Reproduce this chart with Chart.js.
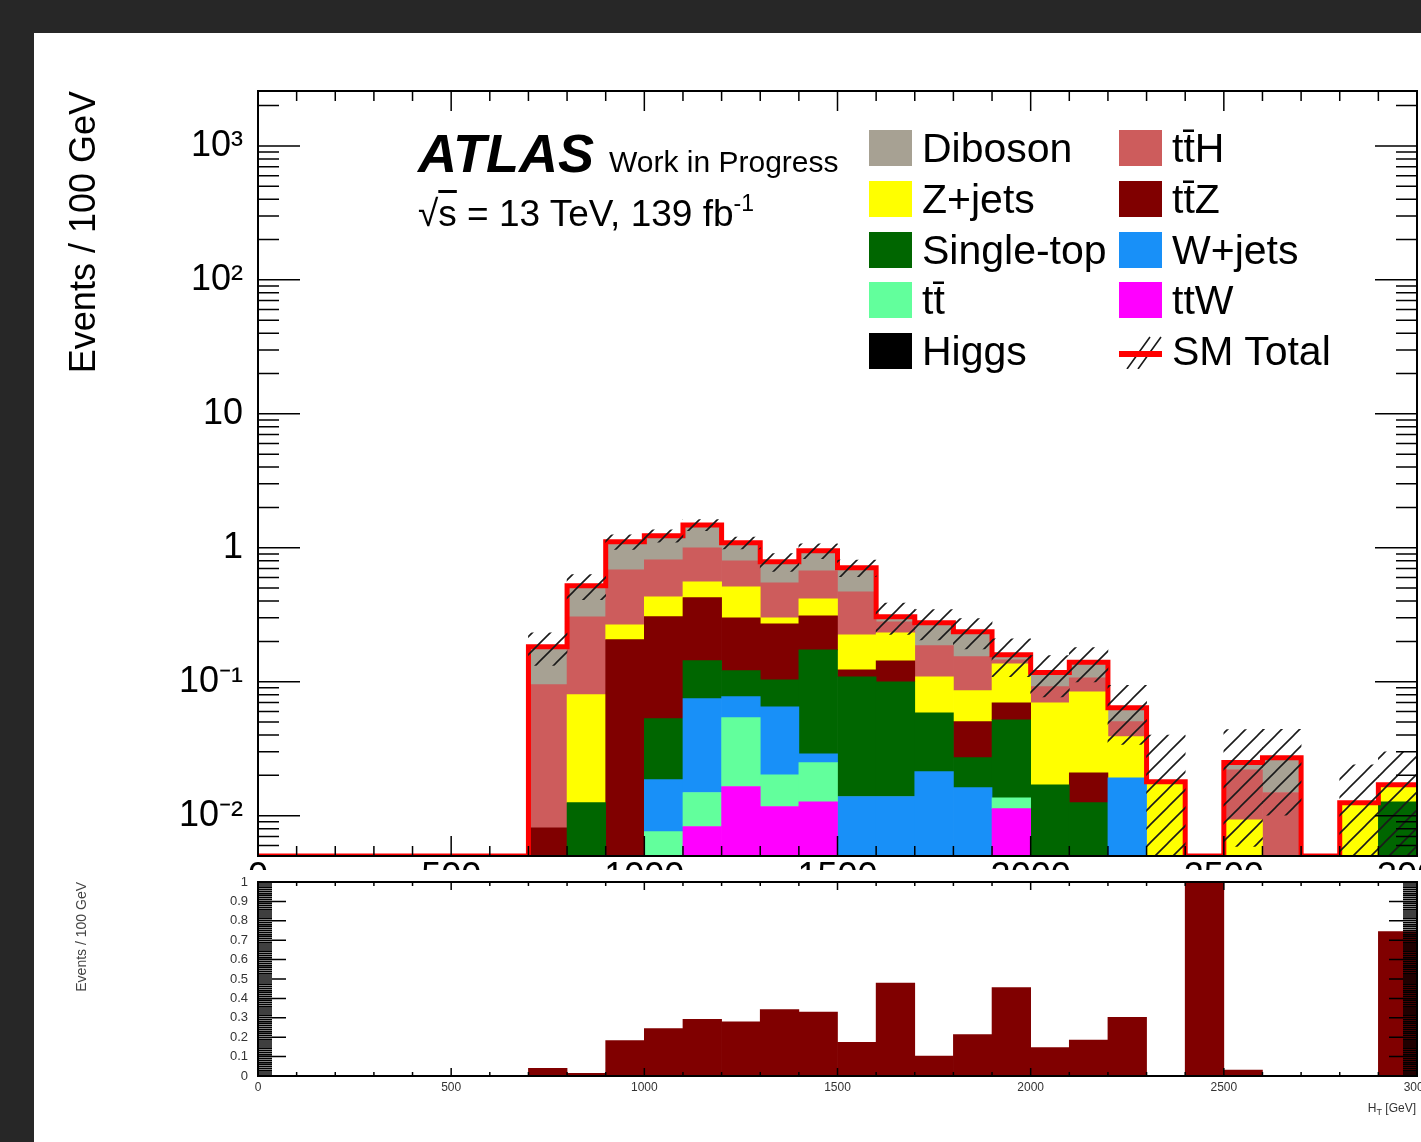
<!DOCTYPE html>
<html>
<head>
<meta charset="utf-8">
<script src="https://cdn.jsdelivr.net/npm/chart.js@4.4.0/dist/chart.umd.min.js"></script>
<style>
  body { margin: 0; width: 1421px; height: 1142px; overflow: hidden; position: relative;
         background: #272727; font-family: "Liberation Sans", Arial, sans-serif; }
  #sheet { position: absolute; left: 34px; top: 33px; right: 0; bottom: 0; background: #fff; }
  canvas { position: absolute; }
  #main { left: 34px; top: 33px; }
  #lower { left: 34px; top: 870px; background: #fff; }
  .txt { position: absolute; white-space: nowrap; color: #000; }
  #legend { position: absolute; left: 869px; top: 130px; }
  #legend .item { position: absolute; display: flex; align-items: center; height: 36px;
                  font-size: 41px; line-height: 36px; white-space: nowrap; }
  #legend .sw { width: 43px; height: 36px; margin-right: 10px; flex: none; }
</style>
</head>
<body>
<div id="sheet"></div>
<canvas id="main" width="1387" height="867"></canvas>
<canvas id="lower" width="1387" height="272"></canvas>

<div class="txt" style="left:418px; top:126px; font: italic bold 54px/54px 'Liberation Sans', Arial, sans-serif;">ATLAS</div>
<div class="txt" style="left:609px; top:147px; font: 30px/30px 'Liberation Sans', Arial, sans-serif;">Work in Progress</div>
<div class="txt" style="left:418px; top:195px; font: 37px/37px 'Liberation Sans', Arial, sans-serif;">√<span style="text-decoration: overline;">s</span> = 13 TeV, 139 fb<span style="font-size:23px; position:relative; top:-15px;">-1</span></div>
<div id="legend"></div>
<div class="txt" style="right:5px; top:1101px; font: 12px 'Liberation Sans', Arial, sans-serif; color:#333;">H<sub style="font-size:9px;">T</sub> [GeV]</div>

<script>
// 100 GeV bins of H_T
const binEdges = [0, 100, 200, 300, 400, 500, 600, 700, 800, 900, 1000, 1100, 1200, 1300, 1400, 1500,
  1600, 1700, 1800, 1900, 2000, 2100, 2200, 2300, 2400, 2500, 2600, 2700, 2800, 2900, 3000]

// events / 100 GeV per background (0 = empty bin)
//               0-600 GeV           700    800    900    1000   1100    1200   1300   1400   1500   1600   1700   1800   1900   2000   2100   2200   2300   2400 2500   2600   2700 2800 2900
const higgs     = [0,0,0,0,0,0,0,    0,     0,     0,     0,     0,      0,     0,     0,     0,     0,     0,     0,     0,     0,     0,     0,     0,     0,   0,     0,     0,   0,     0]
const ttW       = [0,0,0,0,0,0,0,    0,     0,     0,     0,     0.0083, 0.0165,0.0117,0.0127,0,     0,     0,     0,     0.0113,0,     0,     0,     0,     0,   0,     0,     0,   0,     0]
const ttbar     = [0,0,0,0,0,0,0,    0,     0,     0,     0.0076,0.0066, 0.0374,0.0085,0.0122,0,     0,     0,     0,     0.0023,0,     0,     0,     0,     0,   0,     0,     0,   0,     0]
const wjets     = [0,0,0,0,0,0,0,    0,     0,     0,     0.011, 0.0599, 0.0234,0.0448,0.0041,0.0139,0.0139,0.0213,0.0162,0,     0,     0,     0.0192,0,     0,   0,     0,     0,   0,     0]
const singleTop = [0,0,0,0,0,0,0,    0,     0.0125,0,     0.0344,0.0688, 0.0437,0.0385,0.144, 0.095, 0.086, 0.0374,0.0109,0.0384,0.017, 0.0125,0,     0,     0,   0,     0,     0,   0,     0.0127]
const ttZ       = [0,0,0,0,0,0,0,    0.0081,0,     0.206, 0.253, 0.2805, 0.179, 0.1675,0.138, 0.014, 0.0435,0,     0.0232,0.0177,0,     0.0084,0,     0,     0,   0,     0,     0,   0,     0]
const zjets     = [0,0,0,0,0,0,0,    0,     0.0675,0.06,  0.125, 0.133,  0.212, 0.029, 0.105, 0.101, 0.0885,0.0503,0.0354,0.0663,0.0527,0.0633,0.0197,0.0179,0,   0.0093,0,     0,   0.0125,0.0043]
const ttH       = [0,0,0,0,0,0,0,    0.087, 0.225, 0.419, 0.383, 0.443,  0.288, 0.248, 0.257, 0.245, 0.048, 0.077, 0.0683,0.010, 0.0221,0.0228,0.0114,0,     0,   0.0127,0.0149,0,   0,     0]
const diboson   = [0,0,0,0,0,0,0,    0.087, 0.215, 0.425, 0.416, 0.48,   0.29,  0.238, 0.277, 0.24,  0.026, 0.089, 0.082, 0.013, 0.0252,0.0328,0.0137,0,     0,   0.0029,0.0122,0,   0,     0]
// uncertainty on the SM total (hatched band)
const statErr   = [0,0,0,0,0,0,0,    0.05,  0.11,  0.14,  0.13,  0.14,   0.11,  0.12,  0.12,  0.10,  0.08,  0.07,  0.06,  0.05,  0.04,  0.04,  0.03,  0.022, 0,   0.019, 0.017, 0,   0.0115,0.013]
// lower pad
const lowerVals = [0,0,0,0,0,0,0,    0.04,  0.014, 0.182, 0.245, 0.292,  0.279, 0.342, 0.330, 0.174, 0.479, 0.103, 0.214, 0.456, 0.146, 0.185, 0.303, 0,     1.3, 0.03,  0,     0,   0,     0.744] // 2400-2500 runs off the top

const xTickValues = [0, 500, 1000, 1500, 2000, 2500, 3000]
const xTickLabels = ['0', '500', '1000', '1500', '2000', '2500', '3000']
const yTickValues = [0.01, 0.1, 1, 10, 100, 1000]
const yTickLabels = ['10⁻²', '10⁻¹', '1', '10', '10²', '10³']
const lowerYTickValues = [0, 0.1, 0.2, 0.3, 0.4, 0.5, 0.6, 0.7, 0.8, 0.9, 1]
const lowerYTickLabels = ['0', '0.1', '0.2', '0.3', '0.4', '0.5', '0.6', '0.7', '0.8', '0.9', '1']

const YMIN = 0.005, YMAX = 2570

const legendOrder = ['Diboson', 'Z+jets', 'Single-top', 'tt\u0304', 'Higgs',
  'tt\u0304H', 'tt\u0304Z', 'W+jets', 'ttW', 'SM Total']

Chart.defaults.font.family = "'Liberation Sans', Arial, sans-serif"
Chart.defaults.color = '#000'

const binCenters = binEdges.slice(0, -1).map((e, i) => (e + binEdges[i + 1]) / 2)
const asPoints = a => binCenters.map((c, i) => ({x: c, y: a[i] > 0 ? a[i] : null}))

const stack = [
  ['Higgs', higgs, '#000000'],
  ['ttW', ttW, '#ff00ff'],
  ['tt\u0304', ttbar, '#62ff9c'],
  ['W+jets', wjets, '#1890f8'],
  ['Single-top', singleTop, '#006600'],
  ['tt\u0304Z', ttZ, '#800000'],
  ['Z+jets', zjets, '#ffff00'],
  ['tt\u0304H', ttH, '#cd5c5c'],
  ['Diboson', diboson, '#a7a193'],
]
const total = binCenters.map((c, i) => stack.reduce((s, d) => s + d[1][i], 0))

function hatchPattern() {
  const c = document.createElement('canvas')
  c.width = c.height = 18
  const g = c.getContext('2d')
  g.strokeStyle = '#1a1a1a'
  g.lineWidth = 1.6
  g.beginPath()
  g.moveTo(0, 18); g.lineTo(18, 0)
  g.moveTo(-2, 2); g.lineTo(2, -2)
  g.moveTo(16, 20); g.lineTo(20, 16)
  g.stroke()
  return g.createPattern(c, 'repeat')
}
const hatch = hatchPattern()

// ROOT style frame with inward ticks on all four sides
const frameTicks = {
  id: 'frameTicks',
  afterDraw(chart, args, o) {
    const {ctx, chartArea: a} = chart
    const x = chart.scales.x, y = chart.scales.y
    ctx.save()
    ctx.strokeStyle = '#000'
    ctx.lineWidth = 1.5
    ctx.beginPath()
    for (const [v, len] of o.xTicks) {
      const p = x.getPixelForValue(v)
      ctx.moveTo(p, a.bottom); ctx.lineTo(p, a.bottom - len)
      ctx.moveTo(p, a.top); ctx.lineTo(p, a.top + len)
    }
    for (const [v, len] of o.yTicks) {
      const p = y.getPixelForValue(v)
      ctx.moveTo(a.left, p); ctx.lineTo(a.left + len, p)
      ctx.moveTo(a.right, p); ctx.lineTo(a.right - len, p)
    }
    ctx.stroke()
    ctx.lineWidth = 2
    ctx.strokeRect(a.left, a.top, a.right - a.left, a.bottom - a.top)
    ctx.restore()
  }
}

const htmlLegend = {
  id: 'htmlLegend',
  afterUpdate(chart, args, o) {
    const box = document.getElementById(o.containerID)
    box.innerHTML = ''
    o.order.forEach((label, k) => {
      const ds = chart.data.datasets.find(d => d.label === label)
      const item = document.createElement('div')
      item.className = 'item'
      item.style.left = (Math.floor(k / 5) * 250) + 'px'
      item.style.top = ((k % 5) * 50.75) + 'px'
      let sw
      if (ds.type === 'line') {
        sw = document.createElement('canvas')
        sw.width = 43; sw.height = 36
        sw.style.position = 'static'
        const g = sw.getContext('2d')
        g.strokeStyle = '#1a1a1a'; g.lineWidth = 1.6
        g.beginPath()
        g.moveTo(8, 36); g.lineTo(31, 4)
        g.moveTo(19, 36); g.lineTo(42, 4)
        g.stroke()
        g.fillStyle = ds.borderColor
        g.fillRect(0, 18, 43, 6)
      } else {
        sw = document.createElement('div')
        sw.style.background = ds.backgroundColor
      }
      sw.className = 'sw'
      const t = document.createElement('span')
      t.textContent = label
      item.appendChild(sw)
      item.appendChild(t)
      box.appendChild(item)
    })
  }
}

// keep the frame where ROOT had it: no extra room for half of the end labels
const noPad = s => { s.paddingLeft = 0; s.paddingRight = 0; s.paddingTop = 0; s.paddingBottom = 0 }

const mainXTicks = [], mainYTicks = []
for (let v = 0; v <= 3000; v += 100) mainXTicks.push([v, v % 500 === 0 ? 20 : 10])
for (let e = -3; e <= 3; e++) {
  for (let n = 1; n <= 9; n++) {
    const v = n * Math.pow(10, e)
    if (v >= YMIN && v <= YMAX) mainYTicks.push([v, n === 1 ? 42 : 21])
  }
}
const lowerXTicks = [], lowerYTicks = []
for (let v = 0; v <= 3000; v += 100) lowerXTicks.push([v, v % 500 === 0 ? 8 : 4])
for (let i = 0; i <= 100; i++) lowerYTicks.push([i / 100, i % 10 === 0 ? 28 : 14])

const bgDatasets = stack.map(([label, vals, color]) => ({
  label,
  data: asPoints(vals),
  backgroundColor: color,
  borderWidth: 0,
  stack: 'bkg',
  yAxisID: 'y',
  order: 2,
  barPercentage: 1,
  categoryPercentage: 1,
}))

const smLine = {
  type: 'line',
  label: 'SM Total',
  data: binEdges.map((e, i) => ({x: e, y: Math.max(total[Math.min(i, total.length - 1)], YMIN)})),
  borderColor: '#ff0000',
  borderWidth: 5,
  borderJoinStyle: 'miter',
  stepped: true,
  pointRadius: 0,
  fill: false,
  yAxisID: 'yb',
  order: 1,
}

const smBand = {
  label: 'SM Total uncertainty',
  data: binCenters.map((c, i) => ({x: c, y: total[i] > 0 ? [Math.max(total[i] - statErr[i], YMIN), total[i] + statErr[i]] : null})),
  backgroundColor: hatch,
  borderWidth: 0,
  stack: 'bkg',
  yAxisID: 'yb',
  order: 0,
  barPercentage: 1,
  categoryPercentage: 1,
}

new Chart(document.getElementById('main'), {
  type: 'bar',
  data: {datasets: [...bgDatasets, smLine, smBand]},
  options: {
    responsive: false,
    animation: false,
    layout: {padding: {top: 58, right: 4, left: 0, bottom: 0}},
    plugins: {
      legend: {display: false},
      tooltip: {enabled: false},
      frameTicks: {xTicks: mainXTicks, yTicks: mainYTicks},
      htmlLegend: {containerID: 'legend', order: legendOrder},
    },
    scales: {
      x: {
        type: 'linear', min: 0, max: 3000, offset: false, stacked: true,
        grid: {display: false, drawTicks: false}, border: {display: false},
        afterBuildTicks: s => { s.ticks = xTickValues.map(v => ({value: v})) },
        ticks: {autoSkip: false, maxRotation: 0, padding: 0, font: {size: 36},
                callback: (v, i) => xTickLabels[i]},
        afterFit: s => { s.height = 44; noPad(s) },
      },
      y: {
        type: 'logarithmic', min: YMIN, max: YMAX, stacked: true,
        grid: {display: false, drawTicks: false}, border: {display: false},
        afterBuildTicks: s => { s.ticks = yTickValues.map(v => ({value: v})) },
        ticks: {autoSkip: false, padding: 15, font: {size: 36},
                callback: (v, i) => yTickLabels[i]},
        title: {display: true, text: 'Events / 100 GeV', align: 'end',
                font: {size: 36}, padding: {top: 29, bottom: 0}},
        afterFit: s => { s.width = 224; noPad(s) },
      },
      yb: {type: 'logarithmic', min: YMIN, max: YMAX, stacked: false, display: false},
    },
  },
  plugins: [frameTicks, htmlLegend],
})

new Chart(document.getElementById('lower'), {
  type: 'bar',
  data: {datasets: [{
    label: 'lower',
    data: asPoints(lowerVals),
    backgroundColor: '#800000',
    borderWidth: 0,
    barPercentage: 1,
    categoryPercentage: 1,
  }]},
  options: {
    responsive: false,
    animation: false,
    layout: {padding: {top: 12, right: 4, left: 0, bottom: 0}},
    plugins: {
      legend: {display: false},
      tooltip: {enabled: false},
      frameTicks: {xTicks: lowerXTicks, yTicks: lowerYTicks},
    },
    scales: {
      x: {
        type: 'linear', min: 0, max: 3000, offset: false,
        grid: {display: false, drawTicks: false}, border: {display: false},
        afterBuildTicks: s => { s.ticks = xTickValues.map(v => ({value: v})) },
        ticks: {autoSkip: false, maxRotation: 0, padding: 4, font: {size: 12}, color: '#333',
                callback: (v, i) => xTickLabels[i]},
        afterFit: s => { s.height = 66; noPad(s) },
      },
      y: {
        type: 'linear', min: 0, max: 1,
        grid: {display: false, drawTicks: false}, border: {display: false},
        afterBuildTicks: s => { s.ticks = lowerYTickValues.map(v => ({value: v})) },
        ticks: {autoSkip: false, padding: 10, font: {size: 13}, color: '#333',
                callback: (v, i) => lowerYTickLabels[i]},
        title: {display: true, text: 'Events / 100 GeV', align: 'end', color: '#444',
                font: {size: 14}, padding: {top: 40, bottom: 0}},
        afterFit: s => { s.width = 224; noPad(s) },
      },
    },
  },
  plugins: [frameTicks],
})
</script>
</body>
</html>
